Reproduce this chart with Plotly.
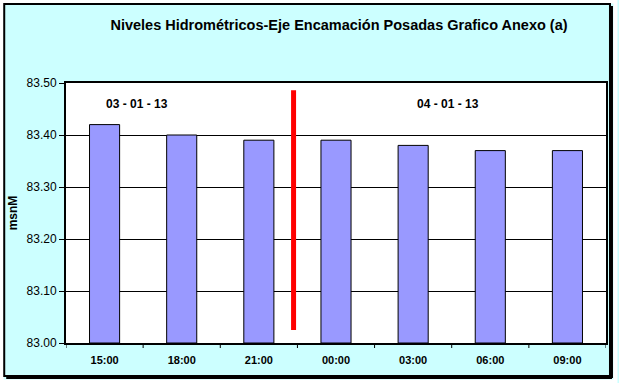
import plotly.graph_objects as go

categories = ["15:00", "18:00", "21:00", "00:00", "03:00", "06:00", "09:00"]
levels = [83.42, 83.40, 83.39, 83.39, 83.38, 83.37, 83.37]
y_ticks = [83.00, 83.10, 83.20, 83.30, 83.40, 83.50]
y_tick_labels = ["83.00", "83.10", "83.20", "83.30", "83.40", "83.50"]
divider_x = 2.45
divider_y = [83.025, 83.486]
date_labels = ["03 - 01 - 13", "04 - 01 - 13"]
date_label_x = [0.42, 4.45]
date_label_y = 83.46

W, H = 619, 383
L, R, T, B = 66, 11, 83, 40
pw, ph = W - L - R, H - T - B

def px_x(px):
    return (px - L) / pw

def px_y(py):
    return (H - B - py) / ph

fig = go.Figure()
fig.add_trace(go.Bar(
    x=list(range(len(categories))), y=[v - 83.0 for v in levels], base=83.0,
    marker=dict(color="#9999FF", line=dict(color="black", width=1)),
    width=0.39, showlegend=False, hoverinfo="skip"))

fig.add_trace(go.Scatter(
    x=[divider_x, divider_x], y=divider_y, mode="lines",
    line=dict(color="#FF0000", width=5), showlegend=False, hoverinfo="skip"))

for txt, xv in zip(date_labels, date_label_x):
    fig.add_annotation(x=xv, y=date_label_y, text="<b>" + txt + "</b>", showarrow=False,
                       font=dict(family="Liberation Sans, Arial", size=12, color="black"))

# outer frame
fig.add_shape(type="rect", xref="paper", yref="paper",
              x0=px_x(1.5), x1=px_x(W - 1.5), y0=px_y(H - 1.5), y1=px_y(1.5),
              line=dict(color="white", width=4), layer="above")
fig.add_shape(type="rect", xref="paper", yref="paper",
              x0=px_x(4), x1=px_x(612), y0=px_y(376), y1=px_y(4),
              line=dict(color="black", width=2), layer="above")
fig.add_shape(type="line", xref="paper", yref="paper",
              x0=px_x(614), x1=px_x(614), y0=px_y(378), y1=px_y(6),
              line=dict(color="black", width=2), layer="above")
fig.add_shape(type="line", xref="paper", yref="paper",
              x0=px_x(6), x1=px_x(614), y0=px_y(378), y1=px_y(378),
              line=dict(color="black", width=2), layer="above")

fig.update_layout(
    width=W, height=H,
    margin=dict(l=L, r=R, t=T, b=B, pad=0),
    paper_bgcolor="#CCFFFF", plot_bgcolor="white",
    font=dict(family="Liberation Sans, Arial", color="black"),
    title=dict(text="<b>Niveles Hidrométricos-Eje Encamación Posadas Grafico Anexo (a)</b>",
               x=339 / W, xanchor="center", y=1 - 25 / H, yanchor="middle",
               font=dict(size=14.5, family="Liberation Sans, Arial")),
    bargap=0.61,
    xaxis=dict(
        tickmode="array", tickvals=list(range(len(categories))),
        ticktext=["<b>" + c + "</b>" for c in categories],
        range=[-0.5, len(categories) - 0.5],
        showline=True, linecolor="black", linewidth=2, mirror=True,
        ticks="", showgrid=False, zeroline=False,
        tickfont=dict(size=11, family="Liberation Sans, Arial"),
        ticklabelstandoff=6,
    ),
    yaxis=dict(
        range=[83.0, 83.5], tickmode="array", tickvals=y_ticks, ticktext=y_tick_labels,
        showline=True, linecolor="black", linewidth=2, mirror=True,
        ticks="outside", ticklen=5, tickcolor="black", tickwidth=1,
        showgrid=True, gridcolor="black", gridwidth=1, zeroline=False,
        tickfont=dict(size=12, family="Liberation Sans, Arial"),
        title=dict(text="<b>msnM</b>", font=dict(size=12), standoff=6),
    ),
)

# x tick marks at category boundaries
for i in range(len(categories) + 1):
    fig.add_shape(type="line", xref="x", yref="paper", x0=i - 0.5, x1=i - 0.5,
                  y0=0, y1=-5 / ph, line=dict(color="black", width=1), layer="above")

fig.write_html("out.html", config={"displayModeBar": False},
               post_script="document.body.style.margin='0';document.body.style.overflow='hidden';")
